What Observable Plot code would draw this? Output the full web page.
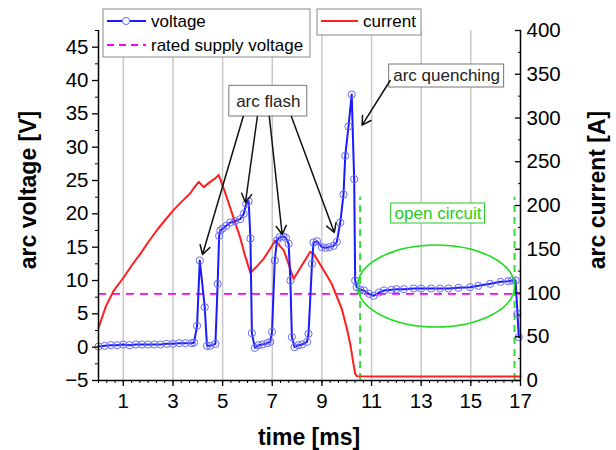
<!DOCTYPE html>
<html><head><meta charset="utf-8">
<script src="https://cdn.jsdelivr.net/npm/d3@7"></script>
<script src="https://cdn.jsdelivr.net/npm/@observablehq/plot@0.6"></script>
<style>
body{margin:0;background:#fff;font-family:"Liberation Sans",Arial,sans-serif;}
#chart{position:relative;width:616px;height:450px;}
</style></head><body><div id="chart"></div>
<script>
// ---- data ----
const voltageT = [0.0,0.25,0.5,0.75,1.0,1.25,1.5,1.75,2.0,2.25,2.5,2.75,3.0,3.25,3.5,3.75,3.85,3.97,4.08,4.28,4.37,4.5,4.71,4.8,4.86,4.91,5.0,5.15,5.31,5.5,5.71,5.85,5.95,6.05,6.12,6.18,6.3,6.45,6.6,6.8,6.92,6.99,7.1,7.19,7.3,7.45,7.55,7.66,7.73,7.79,7.9,8.05,8.2,8.4,8.46,8.6,8.66,8.8,9.0,9.15,9.3,9.47,9.6,9.74,9.87,9.94,10.07,10.2,10.3,10.34,10.4,10.55,10.7,10.9,11.08,11.3,11.5,11.8,12.0,12.3,12.7,13.0,13.4,13.76,14.1,14.5,14.97,15.3,15.78,16.2,16.5,16.65,16.8,16.88,16.93];
const voltageV = [0.1,0.2,0.3,0.3,0.4,0.3,0.4,0.4,0.4,0.4,0.4,0.5,0.5,0.6,0.6,0.6,0.7,3.2,13.0,6.0,0.2,0.2,0.5,9.5,16.7,17.5,17.8,18.2,18.7,18.9,19.2,20.0,21.5,21.9,16.3,2.1,-0.1,0.3,0.4,0.6,0.8,2.3,13.0,16.0,16.5,16.6,16.4,15.5,10.0,1.5,0.0,0.3,0.4,0.8,2.0,12.5,15.7,15.9,15.0,14.9,15.0,15.2,15.8,18.7,22.9,28.7,33.1,37.9,25.2,10.0,9.0,8.6,8.5,8.0,7.7,8.2,8.5,8.6,8.7,8.7,8.8,8.8,8.8,8.8,8.8,8.9,9.0,9.2,9.5,9.8,9.9,10.0,10.0,5.0,1.5];
const currentT = [0.0,0.3,0.62,1.02,1.35,1.69,2.0,2.36,2.7,3.03,3.3,3.7,3.84,4.04,4.24,4.5,4.7,4.84,5.1,5.31,5.5,5.71,5.9,6.12,6.4,6.65,6.9,7.12,7.3,7.46,7.66,7.86,8.2,8.53,8.66,8.9,9.2,9.4,9.6,9.8,10.0,10.14,10.27,10.34,10.4,11,12,13,14,15,16,17];
const currentA = [60,85,103,118,132,145,158,172,184,195,203,214,220,227,221,227,231,235,215,197,181,163,143,123,131,139,150,160,154,149,133,116,132,147,145,134,120,110,96,82,60,42,19,8,5,4.5,4.5,4.5,4.5,4.5,4.5,4.5];
const ratedVoltage = 8;
const xTickLabels = [1,3,5,7,9,11,13,15,17];
const gridX = [1,3,5,7,9,11,13,15];
const leftTicks = [-5,0,5,10,15,20,25,30,35,40,45];
const rightTicks = [0,50,100,150,200,250,300,350,400];
const openCircuitT = [10.54,16.76];
const openCircuitTop = 22.5;
// annotations
const boxLabels = ["arc flash","arc quenching","open circuit"];
const boxT1 = [5.27,11.71,11.79], boxT2 = [8.41,16.34,15.57];
const boxV1 = [34.6,38.95,18.55], boxV2 = [39.2,42.4,21.55];
const boxColor = ["#222","#222","#22cc22"];
const arrowT1 = [5.83,6.40,6.88,7.77,11.75];
const arrowV1 = [34.6,34.6,34.6,34.6,40.0];
const arrowT2 = [4.19,5.92,7.40,9.50,10.62];
const arrowV2 = [13.9,21.7,16.9,17.2,33.3];
const ellipse = {t: 13.62, v: 9.1, rt: 3.16, rv: 6.15};

// ---- scales ----
const vMin = -5, vMax = 47.5, aMax = 400;
const toV = a => vMin + a * (vMax - vMin) / aMax;
const voltage = voltageT.map((t,i) => ({t, v: voltageV[i]}));
const current = currentT.map((t,i) => ({t, v: toV(currentA[i])}));
const boxes = boxLabels.map((s,i) => ({s, t1: boxT1[i], t2: boxT2[i], v1: boxV1[i], v2: boxV2[i], c: boxColor[i]}));
const arrows = arrowT1.map((t,i) => ({t1: t, v1: arrowV1[i], t2: arrowT2[i], v2: arrowV2[i]}));
const minorX = d3.range(0, 17.0001, 1/3);
const minorL = d3.range(-2.5, 47.6, 5);
const minorR = d3.range(25, 400, 50).map(toV);

const FS = 20.5;
const plot = Plot.plot({
  width: 616, height: 450,
  marginLeft: 98, marginRight: 96, marginTop: 30, marginBottom: 70,
  x: {domain: [0, 17]},
  y: {domain: [vMin, vMax]},
  style: {fontFamily: "'Liberation Sans', Arial, sans-serif", background: "transparent"},
  marks: [
    Plot.ruleX(gridX, {stroke: "#c8c8c8", strokeWidth: 1.5}),
    Plot.ruleY([ratedVoltage], {stroke: "#ff00ff", strokeDasharray: "8,6", strokeWidth: 1.6}),
    Plot.ruleX(openCircuitT, {y1: vMin, y2: openCircuitTop, stroke: "#33dd33", strokeDasharray: "7,5", strokeWidth: 2}),
    Plot.line(current, {x: "t", y: "v", stroke: "#ff1f1f", strokeWidth: 2}),
    Plot.line(voltage, {x: "t", y: "v", stroke: "#1a1aff", strokeWidth: 2}),
    Plot.dot(voltage, {x: "t", y: "v", r: 3.6, stroke: "#6a6aff", fill: "none", strokeWidth: 1}),
    Plot.ruleX([0], {stroke: "#000", strokeWidth: 1.5}),
    Plot.ruleX([17], {stroke: "#000", strokeWidth: 1.5}),
    Plot.ruleY([vMin], {stroke: "#000", strokeWidth: 1.5}),
    Plot.axisX(xTickLabels, {tickSize: 6, tickPadding: 7, fontSize: FS, label: null, strokeWidth: 1.3}),
    Plot.axisX(minorX, {tickSize: 3, tickFormat: () => "", label: null}),
    Plot.axisY(leftTicks, {anchor: "left", tickSize: 6, tickPadding: 4, fontSize: FS, label: null, strokeWidth: 1.3}),
    Plot.axisY(minorL, {anchor: "left", tickSize: 3, tickFormat: () => "", label: null}),
    Plot.axisY(rightTicks.map(toV), {anchor: "right", tickSize: -6, tickPadding: 12, fontSize: FS, label: null, strokeWidth: 1.3,
      tickFormat: d => String(Math.round((d - vMin) * aMax / (vMax - vMin)))}),
    Plot.axisY(minorR, {anchor: "right", tickSize: -3, tickFormat: () => "", label: null}),
    Plot.rect(boxes, {x1: "t1", x2: "t2", y1: "v1", y2: "v2", fill: "white", stroke: d => d.c === "#222" ? "#777" : "#22cc22", strokeWidth: 1}),
    Plot.text(boxes, {x: d => (d.t1 + d.t2) / 2, y: d => (d.v1 + d.v2) / 2, text: "s", fill: "c", fontSize: 17}),
    Plot.arrow(arrows, {x1: "t1", y1: "v1", x2: "t2", y2: "v2", stroke: "#111", strokeWidth: 1.5, headLength: 10})
  ]
});
document.getElementById("chart").appendChild(plot);

const svg = d3.select(plot);
const sx = plot.scale("x"), sy = plot.scale("y");
// green ellipse
svg.append("ellipse")
  .attr("cx", sx.apply(ellipse.t)).attr("cy", sy.apply(ellipse.v))
  .attr("rx", sx.apply(ellipse.t + ellipse.rt) - sx.apply(ellipse.t))
  .attr("ry", sy.apply(ellipse.v) - sy.apply(ellipse.v + ellipse.rv))
  .attr("fill", "none").attr("stroke", "#22dd22").attr("stroke-width", 1.6);

// axis titles
const tf = "'Liberation Sans', Arial, sans-serif";
svg.append("text").attr("x", 309).attr("y", 445).attr("text-anchor", "middle")
  .attr("font-family", tf).attr("font-weight", "bold").attr("font-size", 23).text("time [ms]");
svg.append("text").attr("transform", "translate(36,190) rotate(-90)").attr("text-anchor", "middle")
  .attr("font-family", tf).attr("font-weight", "bold").attr("font-size", 23).text("arc voltage [V]");
svg.append("text").attr("transform", "translate(605,190) rotate(-90)").attr("text-anchor", "middle")
  .attr("font-family", tf).attr("font-weight", "bold").attr("font-size", 23).text("arc current [A]");

// legends
const lg = svg.append("g").attr("font-family", tf).attr("font-size", 17).attr("text-anchor", "start");
lg.append("rect").attr("x", 103).attr("y", 9).attr("width", 207).attr("height", 48).attr("fill", "white").attr("stroke", "#888");
lg.append("line").attr("x1", 107).attr("x2", 146).attr("y1", 21).attr("y2", 21).attr("stroke", "#1a1aff").attr("stroke-width", 2);
lg.append("circle").attr("cx", 126).attr("cy", 21).attr("r", 3.6).attr("fill", "white").attr("stroke", "#6a6aff");
lg.append("text").attr("x", 151).attr("y", 27).attr("text-anchor", "start").text("voltage");
lg.append("line").attr("x1", 107).attr("x2", 146).attr("y1", 45).attr("y2", 45).attr("stroke", "#ff00ff").attr("stroke-width", 1.8).attr("stroke-dasharray", "7,5");
lg.append("text").attr("x", 151).attr("y", 51).attr("text-anchor", "start").text("rated supply voltage");
lg.append("rect").attr("x", 317).attr("y", 9).attr("width", 104).attr("height", 26).attr("fill", "white").attr("stroke", "#888");
lg.append("line").attr("x1", 321).attr("x2", 358).attr("y1", 21).attr("y2", 21).attr("stroke", "#ff1f1f").attr("stroke-width", 2);
lg.append("text").attr("x", 363).attr("y", 27).attr("text-anchor", "start").text("current");
</script></body></html>
